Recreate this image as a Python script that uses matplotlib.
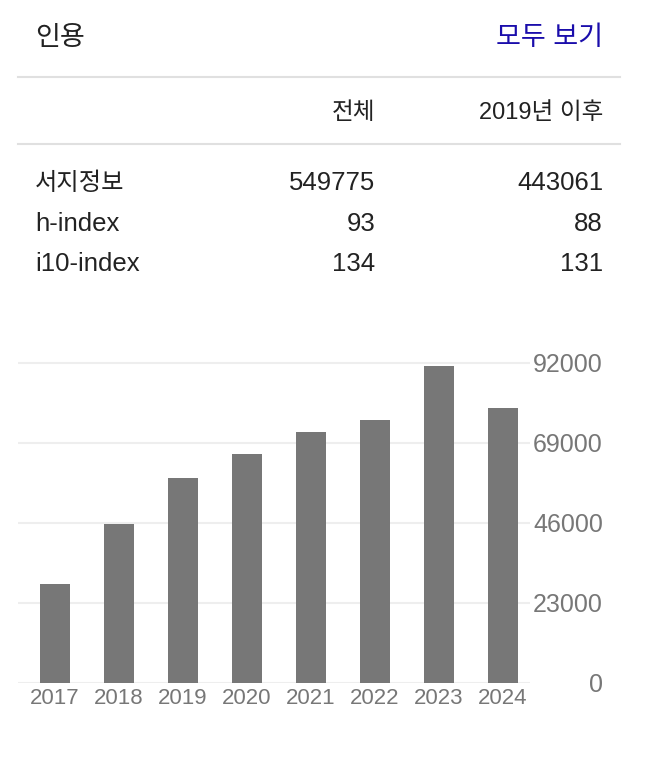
import matplotlib
matplotlib.use('Agg')
import matplotlib.pyplot as plt
from matplotlib.lines import Line2D

plt.rcParams['font.family'] = ['Liberation Sans', 'Noto Sans CJK KR', 'DejaVu Sans']

# data
years = ['2017', '2018', '2019', '2020', '2021', '2022', '2023', '2024']
citations = [28400, 45600, 58900, 65700, 72100, 75500, 91000, 79000]
yticks = [0, 23000, 46000, 69000, 92000]

title = '인용'
link = '모두 보기'
col_labels = ['전체', '2019년 이후']
row_labels = ['서지정보', 'h-index', 'i10-index']
all_vals = [549775, 93, 134]
since_vals = [443061, 88, 131]

W, H = 652, 760
fig = plt.figure(figsize=(W / 100, H / 100), dpi=100)


def fx(x):
    return x / W


def fy(y):
    return 1 - y / H


# header
fig.text(fx(35), fy(45), title, fontsize=19.5, color='#222222', va='baseline', ha='left')
fig.text(fx(603), fy(45), link, fontsize=19.5, color='#1a0dab', va='baseline', ha='right')

for yl in (77, 144):
    fig.add_artist(Line2D([fx(18), fx(620)], [fy(yl), fy(yl)], color='#e0e0e0', lw=1.5))

# table
fig.text(fx(375), fy(119), col_labels[0], fontsize=17, color='#222222', va='baseline', ha='right')
fig.text(fx(603), fy(119), col_labels[1], fontsize=17, color='#222222', va='baseline', ha='right')

row_y = [190, 231, 271]
for lab, a, b, yy in zip(row_labels, all_vals, since_vals, row_y):
    fig.text(fx(35), fy(yy), lab, fontsize=17.5 if not lab.isascii() else 18.5,
             color='#222222', va='baseline', ha='left')
    fig.text(fx(375), fy(yy), str(a), fontsize=18.5, color='#222222', va='baseline', ha='right')
    fig.text(fx(603), fy(yy), str(b), fontsize=18.5, color='#222222', va='baseline', ha='right')

# bar chart
ymax = yticks[-1] * 1.02
zero_px = 682.7
unit = 320 / yticks[-1]
top_px = zero_px - ymax * unit
ax = fig.add_axes([fx(18), fy(zero_px), fx(530) - fx(18), (zero_px - top_px) / H])

xs = range(len(years))
ax.bar(xs, citations, width=30 / 64, color='#777777', zorder=2)
ax.set_xlim(-37 / 64, 7 + 27 / 64)
ax.set_ylim(0, ymax)

for t in yticks:
    ax.axhline(t, color='#eeeeee', lw=1.5, zorder=1)

ax.set_xticks(list(xs))
ax.set_xticklabels(years, fontsize=16, color='#777777')
ax.set_yticks(yticks)
ax.set_yticklabels([str(t) for t in yticks], fontsize=18, color='#777777')
ax.yaxis.tick_right()
ax.tick_params(axis='both', length=0)
ax.tick_params(axis='x', pad=4)
ax.tick_params(axis='y', pad=73 * 0.72)
for lab in ax.get_yticklabels():
    lab.set_horizontalalignment('right')
for s in ax.spines.values():
    s.set_visible(False)

fig.savefig('out.png', dpi=100)
